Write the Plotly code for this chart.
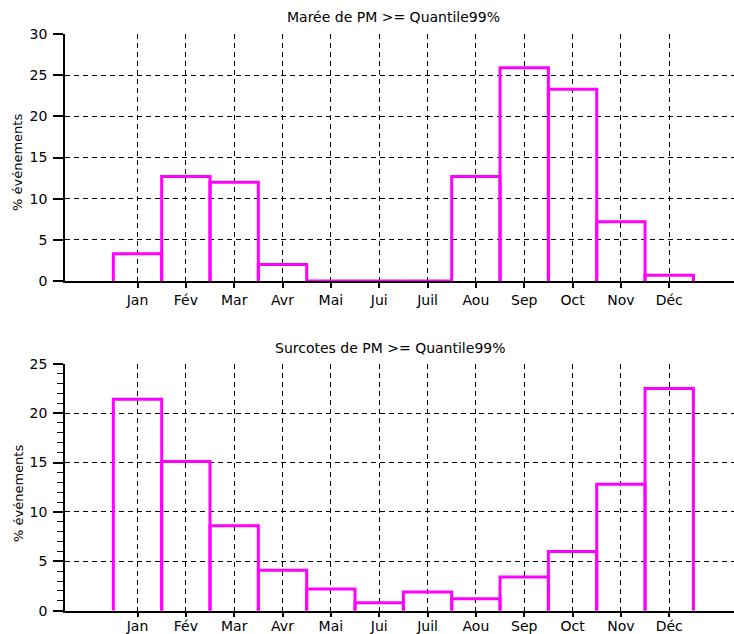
import plotly.graph_objects as go

months = ["Jan", "Fév", "Mar", "Avr", "Mai", "Jui", "Juil", "Aou", "Sep", "Oct", "Nov", "Déc"]
maree = [3.3, 12.7, 12.0, 2.0, 0, 0, 0, 12.7, 25.9, 23.3, 7.2, 0.7]
surcotes = [21.4, 15.1, 8.6, 4.1, 2.2, 0.8, 1.9, 1.2, 3.4, 6.0, 12.8, 22.5]
title_top = "Marée de PM >= Quantile99%"
title_bot = "Surcotes de PM >= Quantile99%"
ylabel = "% événements"

W, H = 734, 634
FONT = "DejaVu Sans"
MAG = "#FF00FF"


def outline(vals):
    xs, ys = [], []
    for i, v in enumerate(vals, start=1):
        xs += [i - 0.5, i - 0.5, i + 0.5, i + 0.5, None]
        ys += [0, v, v, 0, None]
    return xs, ys


fig = go.Figure()
xt, yt = outline(maree)
fig.add_trace(go.Scatter(x=xt, y=yt, mode="lines", line=dict(color=MAG, width=3),
                         xaxis="x", yaxis="y", showlegend=False, hoverinfo="skip"))
xb, yb = outline(surcotes)
fig.add_trace(go.Scatter(x=xb, y=yb, mode="lines", line=dict(color=MAG, width=3),
                         xaxis="x2", yaxis="y2", showlegend=False, hoverinfo="skip"))

x0 = 65 / W
xrange = [-0.5, 13.34]


def pdom(top_px, bot_px):
    return [1 - bot_px / H, 1 - top_px / H]


xcommon = dict(range=xrange, domain=[x0, 1], tickmode="array",
               tickvals=list(range(1, 13)), ticktext=months, automargin=False,
               showgrid=True, gridcolor="black", gridwidth=1, griddash="5px,4px",
               showline=True, linecolor="black", linewidth=1.5,
               ticks="outside", ticklen=5, tickcolor="black", tickwidth=1.5,
               zeroline=False, layer="below traces",
               tickfont=dict(family=FONT, size=14, color="black"))
ycommon = dict(showgrid=True, gridcolor="black", gridwidth=1, griddash="5px,4px",
               showline=True, linecolor="black", linewidth=1.5, automargin=False,
               ticks="outside", ticklen=10, tickcolor="black", tickwidth=1.5,
               ticklabelstandoff=3,
               zeroline=False, layer="below traces",
               tickfont=dict(family=FONT, size=14, color="black"))

fig.update_layout(
    width=W, height=H,
    margin=dict(l=0, r=0, t=0, b=0),
    paper_bgcolor="white", plot_bgcolor="white",
    xaxis=dict(anchor="y", **xcommon),
    yaxis=dict(anchor="x", domain=pdom(34, 281), range=[0, 30], dtick=5, **ycommon),
    xaxis2=dict(anchor="y2", ticklabelstandoff=-3, **xcommon),
    yaxis2=dict(anchor="x2", domain=pdom(363.7, 610.7), range=[0, 25], dtick=5,
                minor=dict(dtick=1, ticks="outside", ticklen=6, tickcolor="black",
                           tickwidth=1, showgrid=False),
                **ycommon),
    annotations=[
        dict(text=title_top, x=393 / W, y=1 - 17 / H, xref="paper", yref="paper",
             showarrow=False, xanchor="center", yanchor="middle",
             font=dict(family=FONT, size=14, color="black")),
        dict(text=title_bot, x=390.5 / W, y=1 - 348 / H, xref="paper", yref="paper",
             showarrow=False, xanchor="center", yanchor="middle",
             font=dict(family=FONT, size=14, color="black")),
        dict(text=ylabel, x=18 / W, y=1 - 163 / H, xref="paper", yref="paper",
             showarrow=False, xanchor="center", yanchor="middle", textangle=-90,
             font=dict(family=FONT, size=13, color="black")),
        dict(text=ylabel, x=18 / W, y=1 - 494 / H, xref="paper", yref="paper",
             showarrow=False, xanchor="center", yanchor="middle", textangle=-90,
             font=dict(family=FONT, size=13, color="black")),
    ],
)

fig.write_html("out.html",
               config={"displayModeBar": False},
               post_script="document.body.style.margin='0';document.body.style.overflow='hidden';")
